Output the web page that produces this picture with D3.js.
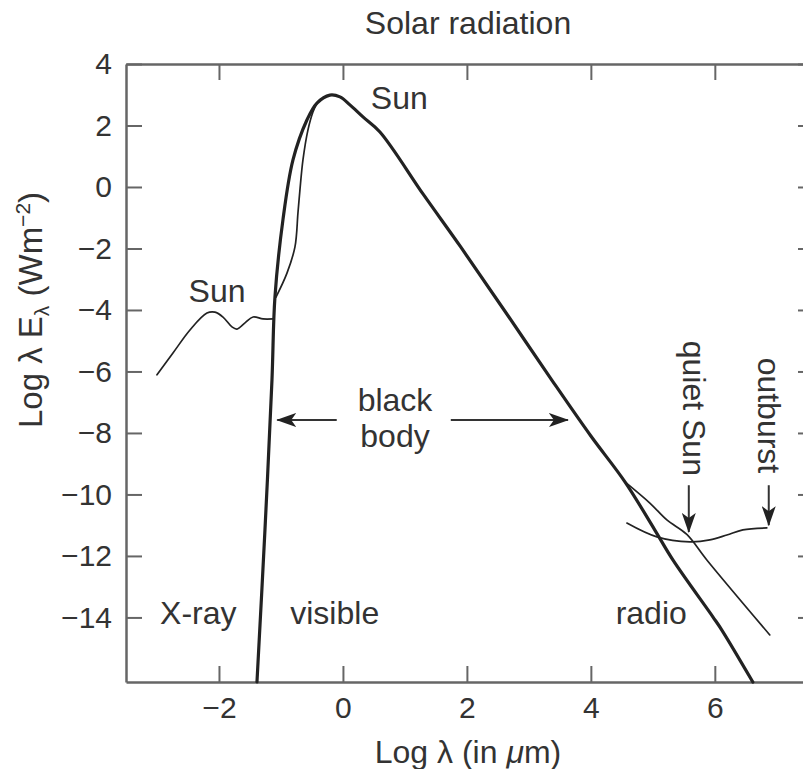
<!DOCTYPE html>
<html>
<head>
<meta charset="utf-8">
<script src="https://cdn.jsdelivr.net/npm/d3@7"></script>
<style>
  body { margin: 0; background: #fff; }
  svg { display: block; font-family: "Liberation Sans", Arial, Helvetica, sans-serif; }
  .lbl { fill: #333; font-size: 32px; }
</style>
</head>
<body>
<svg width="803" height="769"></svg>
<script>
// tick values
const xTicks = [-2, 0, 2, 4, 6];
const yTicks = [4, 2, 0, -2, -4, -6, -8, -10, -12, -14];

// black body curve [log lambda, log lambda*E]
const blackBody = [
  [-1.387, -16.1], [-1.258, -11.15], [-1.145, -6.28], [-1.097, -3.58],
  [-0.968, -1.07], [-0.806, 0.88], [-0.581, 2.18], [-0.419, 2.73],
  [-0.21, 2.99], [-0.048, 2.93], [0.113, 2.67], [0.323, 2.28],
  [0.597, 1.79], [1.3, -0.25], [1.9, -1.95], [2.6, -4.0],
  [3.37, -6.28], [4.0, -8.1], [4.55, -9.59], [5.03, -11.15],
  [5.323, -12.13], [5.968, -13.98], [6.113, -14.41], [6.613, -16.1]
];

// observed Sun, X-ray / UV part
const sunShort = [
  [-3.0, -6.11], [-2.742, -5.40], [-2.468, -4.65], [-2.194, -4.10],
  [-2.065, -4.07], [-1.935, -4.23], [-1.79, -4.55], [-1.71, -4.62],
  [-1.58, -4.42], [-1.45, -4.23], [-1.29, -4.29], [-1.13, -4.29]
];

// observed Sun, visible rise
const sunVisible = [
  [-1.08, -3.58], [-0.903, -2.80], [-0.774, -1.95], [-0.726, -0.85],
  [-0.694, -0.10], [-0.645, 0.88], [-0.565, 1.85], [-0.484, 2.44],
  [-0.419, 2.73]
];

// observed Sun, radio branch
const sunRadio = [
  [4.55, -9.59], [4.952, -10.28], [5.226, -10.83],
  [5.548, -11.3], [5.871, -12.13], [6.887, -14.57]
];

// quiet Sun / outburst curve
const radioBurst = [
  [4.581, -10.93], [5.065, -11.38], [5.597, -11.54], [5.919, -11.48],
  [6.194, -11.32], [6.452, -11.15], [6.839, -11.09]
];

// text labels [text, x, y]
const labels = [
  ["Sun", 0.45, 2.55],
  ["Sun", -2.49, -3.74],
  ["X-ray", -2.95, -14.2],
  ["visible", -0.85, -14.2],
  ["radio", 4.4, -14.2]
];

const width = 803, height = 769;
const svg = d3.select("svg");

const x = d3.scaleLinear().domain([-3.5, 7.6]).range([126, 814]);
const y = d3.scaleLinear().domain([-16.1, 4]).range([682, 64]);

const fmt = d => (d < 0 ? "\u2212" + Math.abs(d) : String(d));

// axes, ticks pointing inward
const axisColor = "#666";
function styleAxis(g, labelled) {
  g.select(".domain").attr("stroke", axisColor).attr("stroke-width", 2.5);
  g.selectAll(".tick line").attr("stroke", axisColor).attr("stroke-width", 2);
  g.selectAll(".tick text")
    .attr("fill", "#333")
    .style("font-size", "30px")
    .style("font-family", "'Liberation Sans', Arial, sans-serif");
  if (!labelled) g.selectAll(".tick text").remove();
}

svg.append("g")
  .attr("transform", `translate(0,${y(-16.1)})`)
  .call(d3.axisBottom(x).tickValues(xTicks).tickFormat(fmt).tickSize(-16).tickSizeOuter(0).tickPadding(15))
  .call(g => styleAxis(g, true));

svg.append("g")
  .attr("transform", `translate(${x(-3.5)},0)`)
  .call(d3.axisLeft(y).tickValues(yTicks).tickFormat(fmt).tickSize(-16).tickSizeOuter(0).tickPadding(14))
  .call(g => styleAxis(g, true));

svg.append("g")
  .attr("transform", `translate(0,${y(4)})`)
  .call(d3.axisTop(x).tickValues(xTicks).tickSize(-16).tickSizeOuter(0))
  .call(g => styleAxis(g, false));

svg.append("g")
  .attr("transform", `translate(${x(7.6)},0)`)
  .call(d3.axisRight(y).tickValues(yTicks).tickSize(-16).tickSizeOuter(0))
  .call(g => styleAxis(g, false));

// curves
const line = d3.line()
  .x(d => x(d[0]))
  .y(d => y(d[1]))
  .curve(d3.curveCatmullRom.alpha(0.5));

const plot = svg.append("g")
  .attr("fill", "none")
  .attr("stroke", "#222")
  .attr("stroke-linejoin", "round")
  .attr("stroke-linecap", "round");

plot.append("path").datum(blackBody).attr("d", line).attr("stroke-width", 3.2);
[sunShort, sunVisible, sunRadio, radioBurst].forEach(s => {
  plot.append("path").datum(s).attr("d", line).attr("stroke-width", 1.7);
});

// arrow marker
svg.append("defs").append("marker")
  .attr("id", "arrow")
  .attr("viewBox", "0 0 20 14")
  .attr("refX", 19)
  .attr("refY", 7)
  .attr("markerWidth", 20)
  .attr("markerHeight", 14)
  .attr("markerUnits", "userSpaceOnUse")
  .attr("orient", "auto")
  .append("path")
  .attr("d", "M0,0 L20,7 L0,14 L5,7 Z")
  .attr("fill", "#222");

// arrows [x1, y1, x2, y2]
const arrows = [
  [-0.1, -7.58, -1.06, -7.58],
  [1.74, -7.58, 3.63, -7.58],
  [5.58, -9.7, 5.58, -11.22],
  [6.87, -9.7, 6.87, -11.0]
];
svg.append("g").selectAll("line")
  .data(arrows)
  .join("line")
  .attr("x1", d => x(d[0])).attr("y1", d => y(d[1]))
  .attr("x2", d => x(d[2])).attr("y2", d => y(d[3]))
  .attr("stroke", "#333")
  .attr("stroke-width", 2)
  .attr("marker-end", "url(#arrow)");

// labels
svg.append("g").selectAll("text")
  .data(labels)
  .join("text")
  .attr("class", "lbl")
  .attr("x", d => x(d[1]))
  .attr("y", d => y(d[2]))
  .text(d => d[0]);

const bb = svg.append("text").attr("class", "lbl").attr("text-anchor", "middle");
bb.append("tspan").attr("x", x(0.84)).attr("y", y(-7.3)).text("black");
bb.append("tspan").attr("x", x(0.84)).attr("y", y(-8.45)).text("body");

svg.append("text").attr("class", "lbl")
  .attr("transform", `translate(${x(5.48)},${y(-5.0)}) rotate(90)`)
  .text("quiet Sun");
svg.append("text").attr("class", "lbl")
  .attr("transform", `translate(${x(6.695)},${y(-5.55)}) rotate(90)`)
  .text("outburst");

// title
svg.append("text").attr("class", "lbl")
  .attr("x", (x(-3.5) + x(7.6)) / 2 - 2)
  .attr("y", 34)
  .attr("text-anchor", "middle")
  .text("Solar radiation");

// axis titles
const xt = svg.append("text").attr("class", "lbl")
  .attr("x", 468).attr("y", 763).attr("text-anchor", "middle");
xt.append("tspan").text("Log \u03bb (in ");
xt.append("tspan").attr("font-style", "italic").text("\u03bc");
xt.append("tspan").text("m)");

const yt = svg.append("text").attr("class", "lbl")
  .style("font-size", "33px")
  .attr("transform", `translate(42,${(y(4) + y(-16.1)) / 2 - 63}) rotate(-90)`)
  .attr("text-anchor", "middle");
yt.append("tspan").text("Log \u03bb E");
yt.append("tspan").attr("font-size", "21px").attr("dy", 7).text("\u03bb");
yt.append("tspan").attr("dy", -7).text(" (Wm");
yt.append("tspan").attr("font-size", "21px").attr("dy", -12).text("\u22122");
yt.append("tspan").attr("dy", 12).text(")");
</script>
</body>
</html>
